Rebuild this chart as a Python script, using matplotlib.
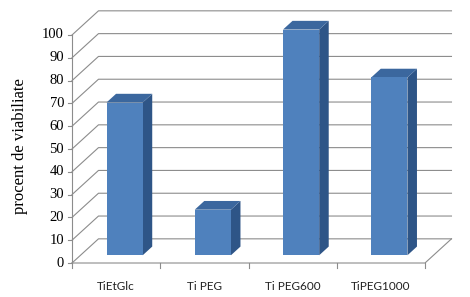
import matplotlib
matplotlib.use("Agg")
import matplotlib.pyplot as plt
from matplotlib.patches import Polygon

categories = ["TiEtGlc", "Ti PEG", "Ti PEG600", "TiPEG1000"]
viability = [67, 20, 99, 78]
y_ticks = list(range(0, 101, 10))

# oblique projection of the depth axis (data units per full depth)
DX = 0.30
DY = 10.6
bar_w = 0.41
d0, d1 = 0.32, 0.68   # bar front / back depth

front_col = "#4F81BD"
side_col = "#2E5587"
top_col = "#3B679E"
grid_col = "#8C8C8C"

fig = plt.figure(figsize=(4.7, 2.97), dpi=100)
ax = fig.add_axes([0, 0, 1, 1])
ax.set_xlim(-0.816, 4.510)
ax.set_ylim(-14.91, 115.35)
ax.axis("off")

n = len(categories)

# walls / gridlines
for v in y_ticks:
    ax.plot([0, DX, n + DX], [v, v + DY, v + DY], color=grid_col, lw=0.8, zorder=1)
    ax.plot([-0.045, 0], [v, v], color=grid_col, lw=0.8, zorder=1)
    ax.text(-0.09, v, str(v), ha="right", va="center", fontsize=10.5,
            family="Liberation Serif")
ax.plot([0, 0], [0, 100], color=grid_col, lw=0.8, zorder=1)
ax.plot([0, n, n + DX], [0, 0, DY], color=grid_col, lw=0.8, zorder=1)
for i in range(n + 1):
    ax.plot([i, i], [0, -2.2], color=grid_col, lw=0.8, zorder=1)

# bars
for i, v in enumerate(viability):
    xl = i + 0.5 - bar_w / 2 + d0 * DX
    xr = xl + bar_w
    yb = d0 * DY
    ox = (d1 - d0) * DX
    oy = (d1 - d0) * DY
    front = [(xl, yb), (xr, yb), (xr, yb + v), (xl, yb + v)]
    side = [(xr, yb), (xr + ox, yb + oy), (xr + ox, yb + v + oy), (xr, yb + v)]
    top = [(xl, yb + v), (xr, yb + v), (xr + ox, yb + v + oy), (xl + ox, yb + v + oy)]
    ax.add_patch(Polygon(side, closed=True, fc=side_col, ec="none", zorder=3))
    ax.add_patch(Polygon(top, closed=True, fc=top_col, ec="none", zorder=3))
    ax.add_patch(Polygon(front, closed=True, fc=front_col, ec="none", zorder=4))
    ax.text(i + 0.5, -10.2, categories[i], ha="center", va="center",
            fontsize=8.5, family="Lato", color="#222222")

ax.text(-0.59, 51.3, "procent de viabiliate", rotation=90, ha="center", va="center",
        fontsize=12, family="Liberation Serif")

fig.savefig("out.png", dpi=100)
